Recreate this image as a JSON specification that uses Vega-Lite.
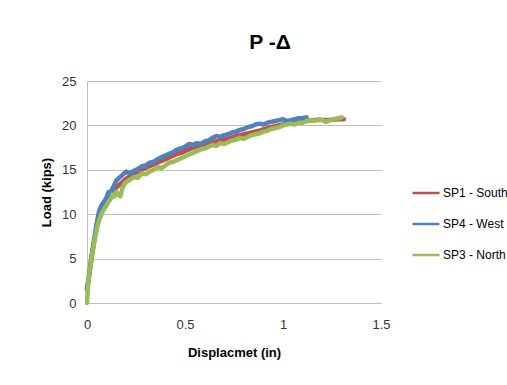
{
  "$schema": "https://vega.github.io/schema/vega-lite/v6.json",
  "autosize": "none",
  "width": 294,
  "height": 222,
  "padding": {"left": 87, "top": 81, "right": 126, "bottom": 82},
  "background": "white",
  "title": {
    "text": "P -Δ",
    "font": "Liberation Sans",
    "fontSize": 21,
    "fontWeight": "bold",
    "color": "#000000",
    "anchor": "middle",
    "dx": 36,
    "offset": 22
  },
  "config": {
    "view": {"stroke": null},
    "font": "Liberation Sans"
  },
  "data": {
    "values": [
      {"s":"SP1 - South","x":0,"y":1.5},{"s":"SP1 - South","x":0.01,"y":3},{"s":"SP1 - South","x":0.02,"y":4.8},{"s":"SP1 - South","x":0.03,"y":6.3},{"s":"SP1 - South","x":0.04,"y":7.6},{"s":"SP1 - South","x":0.05,"y":8.8},{"s":"SP1 - South","x":0.06,"y":9.8},{"s":"SP1 - South","x":0.07,"y":10.4},{"s":"SP1 - South","x":0.08,"y":10.9},{"s":"SP1 - South","x":0.09,"y":11.3},{"s":"SP1 - South","x":0.1,"y":11.6},{"s":"SP1 - South","x":0.12,"y":12.2},{"s":"SP1 - South","x":0.14,"y":12.8},{"s":"SP1 - South","x":0.16,"y":13.2},{"s":"SP1 - South","x":0.18,"y":13.6},{"s":"SP1 - South","x":0.2,"y":14.0},{"s":"SP1 - South","x":0.22,"y":14.3},{"s":"SP1 - South","x":0.24,"y":14.6},{"s":"SP1 - South","x":0.26,"y":14.8},{"s":"SP1 - South","x":0.28,"y":15.0},{"s":"SP1 - South","x":0.3,"y":15.2},{"s":"SP1 - South","x":0.32,"y":15.4},{"s":"SP1 - South","x":0.34,"y":15.6},{"s":"SP1 - South","x":0.36,"y":15.8},{"s":"SP1 - South","x":0.38,"y":16.0},{"s":"SP1 - South","x":0.4,"y":16.2},{"s":"SP1 - South","x":0.42,"y":16.4},{"s":"SP1 - South","x":0.44,"y":16.6},{"s":"SP1 - South","x":0.46,"y":16.8},{"s":"SP1 - South","x":0.48,"y":16.9},{"s":"SP1 - South","x":0.5,"y":17.1},{"s":"SP1 - South","x":0.52,"y":17.3},{"s":"SP1 - South","x":0.54,"y":17.5},{"s":"SP1 - South","x":0.56,"y":17.6},{"s":"SP1 - South","x":0.58,"y":17.7},{"s":"SP1 - South","x":0.6,"y":17.9},{"s":"SP1 - South","x":0.64,"y":18.1},{"s":"SP1 - South","x":0.68,"y":18.3},{"s":"SP1 - South","x":0.72,"y":18.5},{"s":"SP1 - South","x":0.76,"y":18.8},{"s":"SP1 - South","x":0.8,"y":19.0},{"s":"SP1 - South","x":0.84,"y":19.2},{"s":"SP1 - South","x":0.88,"y":19.4},{"s":"SP1 - South","x":0.92,"y":19.7},{"s":"SP1 - South","x":0.96,"y":19.9},{"s":"SP1 - South","x":1.0,"y":20.1},{"s":"SP1 - South","x":1.04,"y":20.3},{"s":"SP1 - South","x":1.08,"y":20.4},{"s":"SP1 - South","x":1.12,"y":20.5},{"s":"SP1 - South","x":1.16,"y":20.6},{"s":"SP1 - South","x":1.2,"y":20.6},{"s":"SP1 - South","x":1.24,"y":20.6},{"s":"SP1 - South","x":1.28,"y":20.7},{"s":"SP1 - South","x":1.31,"y":20.7},
      {"s":"SP4 - West","x":0,"y":1.5},{"s":"SP4 - West","x":0.01,"y":3},{"s":"SP4 - West","x":0.02,"y":4.5},{"s":"SP4 - West","x":0.03,"y":6},{"s":"SP4 - West","x":0.04,"y":7.5},{"s":"SP4 - West","x":0.05,"y":9},{"s":"SP4 - West","x":0.06,"y":10.2},{"s":"SP4 - West","x":0.07,"y":10.8},{"s":"SP4 - West","x":0.08,"y":11.2},{"s":"SP4 - West","x":0.09,"y":11.5},{"s":"SP4 - West","x":0.1,"y":11.9},{"s":"SP4 - West","x":0.11,"y":12.5},{"s":"SP4 - West","x":0.12,"y":12.4},{"s":"SP4 - West","x":0.13,"y":12.9},{"s":"SP4 - West","x":0.14,"y":13.3},{"s":"SP4 - West","x":0.15,"y":13.8},{"s":"SP4 - West","x":0.16,"y":14.0},{"s":"SP4 - West","x":0.18,"y":14.4},{"s":"SP4 - West","x":0.2,"y":14.8},{"s":"SP4 - West","x":0.22,"y":14.6},{"s":"SP4 - West","x":0.24,"y":14.9},{"s":"SP4 - West","x":0.26,"y":15.1},{"s":"SP4 - West","x":0.28,"y":15.4},{"s":"SP4 - West","x":0.3,"y":15.5},{"s":"SP4 - West","x":0.32,"y":15.8},{"s":"SP4 - West","x":0.34,"y":15.9},{"s":"SP4 - West","x":0.36,"y":16.2},{"s":"SP4 - West","x":0.38,"y":16.4},{"s":"SP4 - West","x":0.4,"y":16.6},{"s":"SP4 - West","x":0.42,"y":16.8},{"s":"SP4 - West","x":0.44,"y":17.0},{"s":"SP4 - West","x":0.46,"y":17.3},{"s":"SP4 - West","x":0.48,"y":17.4},{"s":"SP4 - West","x":0.5,"y":17.6},{"s":"SP4 - West","x":0.52,"y":17.9},{"s":"SP4 - West","x":0.54,"y":17.8},{"s":"SP4 - West","x":0.56,"y":18.0},{"s":"SP4 - West","x":0.58,"y":17.9},{"s":"SP4 - West","x":0.6,"y":18.2},{"s":"SP4 - West","x":0.62,"y":18.3},{"s":"SP4 - West","x":0.64,"y":18.6},{"s":"SP4 - West","x":0.66,"y":18.8},{"s":"SP4 - West","x":0.68,"y":18.7},{"s":"SP4 - West","x":0.7,"y":18.9},{"s":"SP4 - West","x":0.72,"y":19.0},{"s":"SP4 - West","x":0.74,"y":19.2},{"s":"SP4 - West","x":0.76,"y":19.3},{"s":"SP4 - West","x":0.78,"y":19.5},{"s":"SP4 - West","x":0.8,"y":19.6},{"s":"SP4 - West","x":0.82,"y":19.8},{"s":"SP4 - West","x":0.84,"y":19.9},{"s":"SP4 - West","x":0.86,"y":20.1},{"s":"SP4 - West","x":0.88,"y":20.2},{"s":"SP4 - West","x":0.9,"y":20.1},{"s":"SP4 - West","x":0.92,"y":20.3},{"s":"SP4 - West","x":0.94,"y":20.4},{"s":"SP4 - West","x":0.96,"y":20.5},{"s":"SP4 - West","x":0.98,"y":20.6},{"s":"SP4 - West","x":1.0,"y":20.7},{"s":"SP4 - West","x":1.02,"y":20.5},{"s":"SP4 - West","x":1.04,"y":20.6},{"s":"SP4 - West","x":1.06,"y":20.7},{"s":"SP4 - West","x":1.08,"y":20.8},{"s":"SP4 - West","x":1.1,"y":20.8},{"s":"SP4 - West","x":1.12,"y":20.9},
      {"s":"SP3 - North","x":0,"y":0},{"s":"SP3 - North","x":0.005,"y":2},{"s":"SP3 - North","x":0.01,"y":3},{"s":"SP3 - North","x":0.02,"y":4.5},{"s":"SP3 - North","x":0.03,"y":6},{"s":"SP3 - North","x":0.04,"y":7.2},{"s":"SP3 - North","x":0.05,"y":8.3},{"s":"SP3 - North","x":0.06,"y":9.2},{"s":"SP3 - North","x":0.07,"y":9.8},{"s":"SP3 - North","x":0.08,"y":10.3},{"s":"SP3 - North","x":0.09,"y":10.7},{"s":"SP3 - North","x":0.1,"y":11.0},{"s":"SP3 - North","x":0.11,"y":11.4},{"s":"SP3 - North","x":0.12,"y":11.7},{"s":"SP3 - North","x":0.13,"y":12.2},{"s":"SP3 - North","x":0.14,"y":12.0},{"s":"SP3 - North","x":0.15,"y":12.5},{"s":"SP3 - North","x":0.16,"y":12.2},{"s":"SP3 - North","x":0.17,"y":12.0},{"s":"SP3 - North","x":0.18,"y":12.9},{"s":"SP3 - North","x":0.19,"y":13.4},{"s":"SP3 - North","x":0.2,"y":13.6},{"s":"SP3 - North","x":0.22,"y":13.9},{"s":"SP3 - North","x":0.24,"y":14.2},{"s":"SP3 - North","x":0.26,"y":14.1},{"s":"SP3 - North","x":0.28,"y":14.6},{"s":"SP3 - North","x":0.3,"y":14.5},{"s":"SP3 - North","x":0.32,"y":14.8},{"s":"SP3 - North","x":0.34,"y":15.0},{"s":"SP3 - North","x":0.36,"y":15.3},{"s":"SP3 - North","x":0.38,"y":15.2},{"s":"SP3 - North","x":0.4,"y":15.5},{"s":"SP3 - North","x":0.42,"y":15.8},{"s":"SP3 - North","x":0.44,"y":15.9},{"s":"SP3 - North","x":0.46,"y":16.1},{"s":"SP3 - North","x":0.48,"y":16.3},{"s":"SP3 - North","x":0.5,"y":16.5},{"s":"SP3 - North","x":0.52,"y":16.7},{"s":"SP3 - North","x":0.54,"y":16.9},{"s":"SP3 - North","x":0.56,"y":17.1},{"s":"SP3 - North","x":0.58,"y":17.3},{"s":"SP3 - North","x":0.6,"y":17.4},{"s":"SP3 - North","x":0.62,"y":17.6},{"s":"SP3 - North","x":0.64,"y":17.8},{"s":"SP3 - North","x":0.66,"y":17.7},{"s":"SP3 - North","x":0.68,"y":18.0},{"s":"SP3 - North","x":0.7,"y":17.9},{"s":"SP3 - North","x":0.72,"y":18.1},{"s":"SP3 - North","x":0.74,"y":18.3},{"s":"SP3 - North","x":0.76,"y":18.4},{"s":"SP3 - North","x":0.78,"y":18.6},{"s":"SP3 - North","x":0.8,"y":18.5},{"s":"SP3 - North","x":0.82,"y":18.7},{"s":"SP3 - North","x":0.84,"y":18.9},{"s":"SP3 - North","x":0.86,"y":19.0},{"s":"SP3 - North","x":0.88,"y":19.1},{"s":"SP3 - North","x":0.9,"y":19.3},{"s":"SP3 - North","x":0.92,"y":19.4},{"s":"SP3 - North","x":0.94,"y":19.6},{"s":"SP3 - North","x":0.96,"y":19.7},{"s":"SP3 - North","x":0.98,"y":19.8},{"s":"SP3 - North","x":1.0,"y":20.0},{"s":"SP3 - North","x":1.02,"y":20.1},{"s":"SP3 - North","x":1.04,"y":20.2},{"s":"SP3 - North","x":1.06,"y":20.1},{"s":"SP3 - North","x":1.08,"y":20.3},{"s":"SP3 - North","x":1.1,"y":20.3},{"s":"SP3 - North","x":1.12,"y":20.5},{"s":"SP3 - North","x":1.14,"y":20.6},{"s":"SP3 - North","x":1.16,"y":20.5},{"s":"SP3 - North","x":1.18,"y":20.7},{"s":"SP3 - North","x":1.2,"y":20.6},{"s":"SP3 - North","x":1.22,"y":20.4},{"s":"SP3 - North","x":1.24,"y":20.6},{"s":"SP3 - North","x":1.26,"y":20.7},{"s":"SP3 - North","x":1.28,"y":20.8},{"s":"SP3 - North","x":1.3,"y":20.9}
    ]
  },
  "mark": {"type": "line", "strokeWidth": 4.5, "strokeJoin": "round", "strokeCap": "round"},
  "encoding": {
    "x": {
      "field": "x", "type": "quantitative",
      "scale": {"domain": [0, 1.5], "nice": false},
      "axis": {
        "title": "Displacmet (in)",
        "values": [0, 0.5, 1, 1.5],
        "format": "~g",
        "grid": false, "ticks": false,
        "domainColor": "#BFBFBF", "domainWidth": 1,
        "labelFontSize": 13, "labelColor": "#333333", "labelPadding": 15,
        "labelFont": "Liberation Sans", "labelFlush": false,
        "titleFont": "Liberation Sans", "titleFontSize": 13, "titleFontWeight": "bold", "titleColor": "#000000", "titlePadding": 15
      }
    },
    "y": {
      "field": "y", "type": "quantitative",
      "scale": {"domain": [0, 25], "nice": false},
      "axis": {
        "title": "Load (kips)",
        "values": [0, 5, 10, 15, 20, 25],
        "grid": true, "gridColor": "#BFBFBF", "gridWidth": 1,
        "ticks": false,
        "domainColor": "#BFBFBF", "domainWidth": 1,
        "labelFontSize": 13, "labelColor": "#333333", "labelPadding": 11,
        "labelFont": "Liberation Sans",
        "titleFont": "Liberation Sans", "titleFontSize": 13, "titleFontWeight": "bold", "titleColor": "#000000", "titlePadding": 8
      }
    },
    "color": {
      "field": "s", "type": "nominal",
      "scale": {"domain": ["SP1 - South", "SP4 - West", "SP3 - North"], "range": ["#C0504D", "#4F81BD", "#9BBB59"]},
      "legend": {
        "title": null,
        "orient": "none",
        "legendX": 324,
        "legendY": 97,
        "symbolType": "stroke",
        "symbolSize": 729,
        "symbolStrokeWidth": 2.5,
        "labelFontSize": 12,
        "labelFont": "Liberation Sans",
        "labelColor": "#000000",
        "labelOffset": 2,
        "labelLimit": 80,
        "rowPadding": 10
      }
    },
    "order": {"value": 0}
  }
}
